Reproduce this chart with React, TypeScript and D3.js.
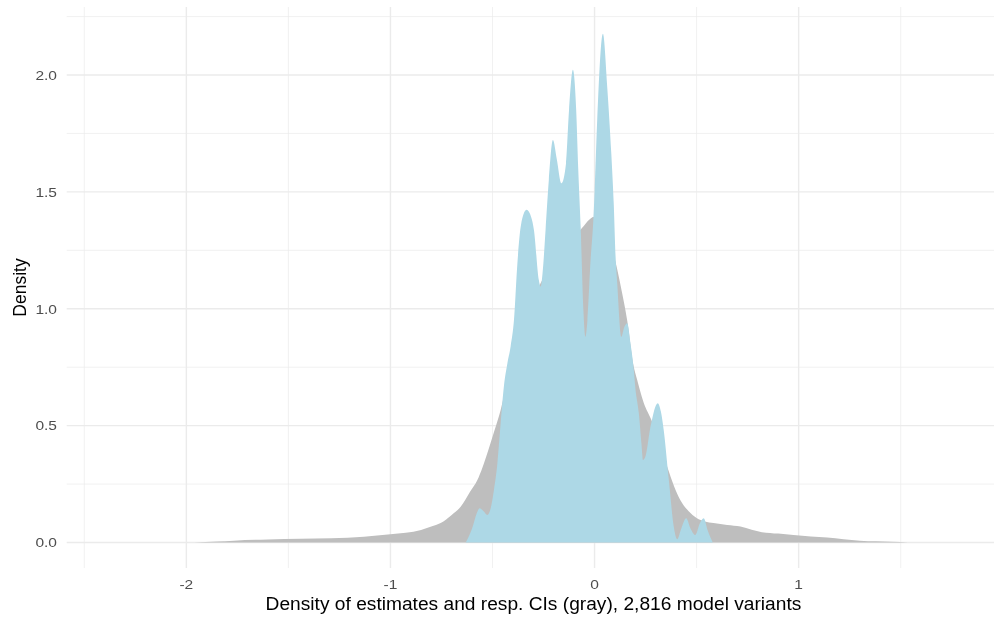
import React, { useEffect, useRef } from "react";
import * as d3 from "d3";

// density of all estimates + CI bounds (gray)
const grayX = [
  -1.963, -1.85, -1.767, -1.6, -1.44, -1.29, -1.13, -1.0, -0.85, -0.8, -0.754, -0.7, -0.656, -0.61,
  -0.574, -0.525, -0.49, -0.46, -0.42, -0.38, -0.33, -0.264, -0.2, -0.13, -0.07, 0.0, 0.04, 0.1,
  0.131, 0.16, 0.19, 0.209, 0.24, 0.282, 0.32, 0.356, 0.39, 0.42, 0.46, 0.5, 0.54, 0.583, 0.65,
  0.715, 0.77, 0.81, 0.9, 0.975, 1.06, 1.14, 1.22, 1.3, 1.38, 1.46, 1.535,
];
const grayY = [
  0, 0.004, 0.008, 0.013, 0.016, 0.018, 0.025, 0.035, 0.053, 0.068, 0.083, 0.118, 0.153, 0.217,
  0.267, 0.383, 0.48, 0.567, 0.72, 0.85, 0.97, 1.11, 1.2, 1.28, 1.337, 1.394, 1.33, 1.21,
  1.085, 0.95, 0.76, 0.695, 0.6, 0.517, 0.42, 0.324, 0.24, 0.182, 0.135, 0.105, 0.09, 0.083, 0.075,
  0.068, 0.055, 0.046, 0.038, 0.032, 0.026, 0.021, 0.014, 0.008, 0.005, 0.003, 0,
];

// density of point estimates (light blue)
const blueX = [
  -0.631, -0.6, -0.574, -0.563, -0.545, -0.525, -0.508, -0.493, -0.476, -0.46, -0.444, -0.427,
  -0.411, -0.395, -0.378, -0.36, -0.333, -0.31, -0.297, -0.273, -0.264, -0.255, -0.24, -0.224,
  -0.204, -0.185, -0.162, -0.14, -0.125, -0.106, -0.09, -0.08, -0.068, -0.055, -0.045, -0.035,
  -0.02, -0.006, 0.0, 0.013, 0.041, 0.062, 0.082, 0.094, 0.103, 0.111, 0.131, 0.145, 0.16, 0.176,
  0.192, 0.2, 0.217, 0.23, 0.237, 0.25, 0.274, 0.31, 0.325, 0.339, 0.364, 0.388, 0.405, 0.425,
  0.449, 0.47, 0.494, 0.515, 0.535, 0.555, 0.579,
];
const blueY = [
  0, 0.06, 0.132, 0.146, 0.135, 0.118, 0.15, 0.225, 0.339, 0.51, 0.67, 0.767,
  0.84, 0.95, 1.195, 1.36, 1.423, 1.39, 1.337, 1.123, 1.095, 1.15, 1.337, 1.551,
  1.722, 1.64, 1.537, 1.62, 1.85, 2.022, 1.85, 1.6, 1.35, 1.0, 0.88, 0.95,
  1.2, 1.38, 1.494, 1.808, 2.176, 1.95, 1.665, 1.45, 1.223, 1.11, 0.88, 0.92, 0.938, 0.852,
  0.74, 0.66, 0.553, 0.42, 0.353, 0.37, 0.495, 0.596, 0.56, 0.48, 0.267, 0.068, 0.014, 0.06,
  0.104, 0.06, 0.032, 0.08, 0.104, 0.05, 0,
];

const xMajor = [-2, -1, 0, 1];
const xMinor = [-2.5, -1.5, -0.5, 0.5, 1.5];
const yMajor = [0, 0.5, 1.0, 1.5, 2.0];
const yMinor = [0.25, 0.75, 1.25, 1.75, 2.25];

const xTitle = "Density of estimates and resp. CIs (gray), 2,816 model variants";
const yTitle = "Density";

const App = () => {
  const chartRef = useRef<HTMLDivElement>(null);

  useEffect(() => {
    const element = chartRef.current;
    if (!element) return;
    const width = 994;
    const height = 617;
    const panel = { left: 66.7, right: 1000, top: 7, bottom: 568 };

    d3.select(element).select("svg").remove();
    const svg = d3
      .select(element)
      .append("svg")
      .attr("width", width)
      .attr("height", height)
      .style("display", "block")
      .style("font-family", "'Liberation Sans', Arial, sans-serif");

    const x = d3.scaleLinear().domain([-2.5, 1.5]).range([84.3, 900.7]);
    const y = d3.scaleLinear().domain([0, 2]).range([542.5, 75]);

    const grid = svg.append("g").attr("class", "grid");
    grid
      .selectAll(".ymin")
      .data(yMinor)
      .enter()
      .append("line")
      .attr("x1", panel.left)
      .attr("x2", panel.right)
      .attr("y1", (d) => y(d))
      .attr("y2", (d) => y(d))
      .attr("stroke", "#ebebeb")
      .attr("stroke-width", 0.7);
    grid
      .selectAll(".xmin")
      .data(xMinor)
      .enter()
      .append("line")
      .attr("y1", panel.top)
      .attr("y2", panel.bottom)
      .attr("x1", (d) => x(d))
      .attr("x2", (d) => x(d))
      .attr("stroke", "#ebebeb")
      .attr("stroke-width", 0.7);
    grid
      .selectAll(".ymaj")
      .data(yMajor)
      .enter()
      .append("line")
      .attr("x1", panel.left)
      .attr("x2", panel.right)
      .attr("y1", (d) => y(d))
      .attr("y2", (d) => y(d))
      .attr("stroke", "#ebebeb")
      .attr("stroke-width", 1.4);
    grid
      .selectAll(".xmaj")
      .data(xMajor)
      .enter()
      .append("line")
      .attr("y1", panel.top)
      .attr("y2", panel.bottom)
      .attr("x1", (d) => x(d))
      .attr("x2", (d) => x(d))
      .attr("stroke", "#ebebeb")
      .attr("stroke-width", 1.4);

    const area = d3
      .area<[number, number]>()
      .x((d) => x(d[0]))
      .y0(y(0))
      .y1((d) => y(d[1]))
      .curve(d3.curveMonotoneX);

    const gray: [number, number][] = grayX.map((v, i) => [v, grayY[i]]);
    const blue: [number, number][] = blueX.map((v, i) => [v, blueY[i]]);

    svg.append("path").datum(gray).attr("d", area).attr("fill", "#bebebe");
    svg.append("path").datum(blue).attr("d", area).attr("fill", "#add8e6");

    // tick labels
    const xt = svg
      .append("g")
      .selectAll("text")
      .data(xMajor)
      .enter()
      .append("text")
      .attr("x", (d) => x(d))
      .attr("y", 589)
      .attr("text-anchor", "middle")
      .attr("font-size", 13.5)
      .attr("fill", "#4d4d4d")
      .text((d) => d3.format("d")(d).replace("−", "-"));
    const yt = svg
      .append("g")
      .selectAll("text")
      .data(yMajor)
      .enter()
      .append("text")
      .attr("x", 57)
      .attr("y", (d) => y(d) + 4.8)
      .attr("text-anchor", "end")
      .attr("font-size", 13.5)
      .attr("fill", "#4d4d4d")
      .text((d) => d3.format(".1f")(d));

    const xt2 = svg
      .append("text")
      .attr("x", 533.5)
      .attr("y", 610)
      .attr("text-anchor", "middle")
      .attr("font-size", 17.5)
      .attr("fill", "#000")
      .text(xTitle);

    svg
      .append("text")
      .attr("transform", `translate(26, ${(panel.top + panel.bottom) / 2}) rotate(-90)`)
      .attr("text-anchor", "middle")
      .attr("font-size", 17.5)
      .attr("fill", "#000")
      .text(yTitle);

    // widen horizontal texts to match the picture
    const widen = (sel: any, stretch: number) => {
      sel.each(function (this: SVGTextElement) {
        const len = this.getComputedTextLength();
        d3.select(this)
          .attr("textLength", len * stretch)
          .attr("lengthAdjust", "spacingAndGlyphs");
      });
    };
    widen(xt, 1.15);
    widen(yt, 1.15);
    widen(xt2, 1.095);
  }, []);

  return (
    <div style={{ position: "fixed", left: 0, top: 0 }}>
      <div ref={chartRef}></div>
    </div>
  );
};

export default App;
